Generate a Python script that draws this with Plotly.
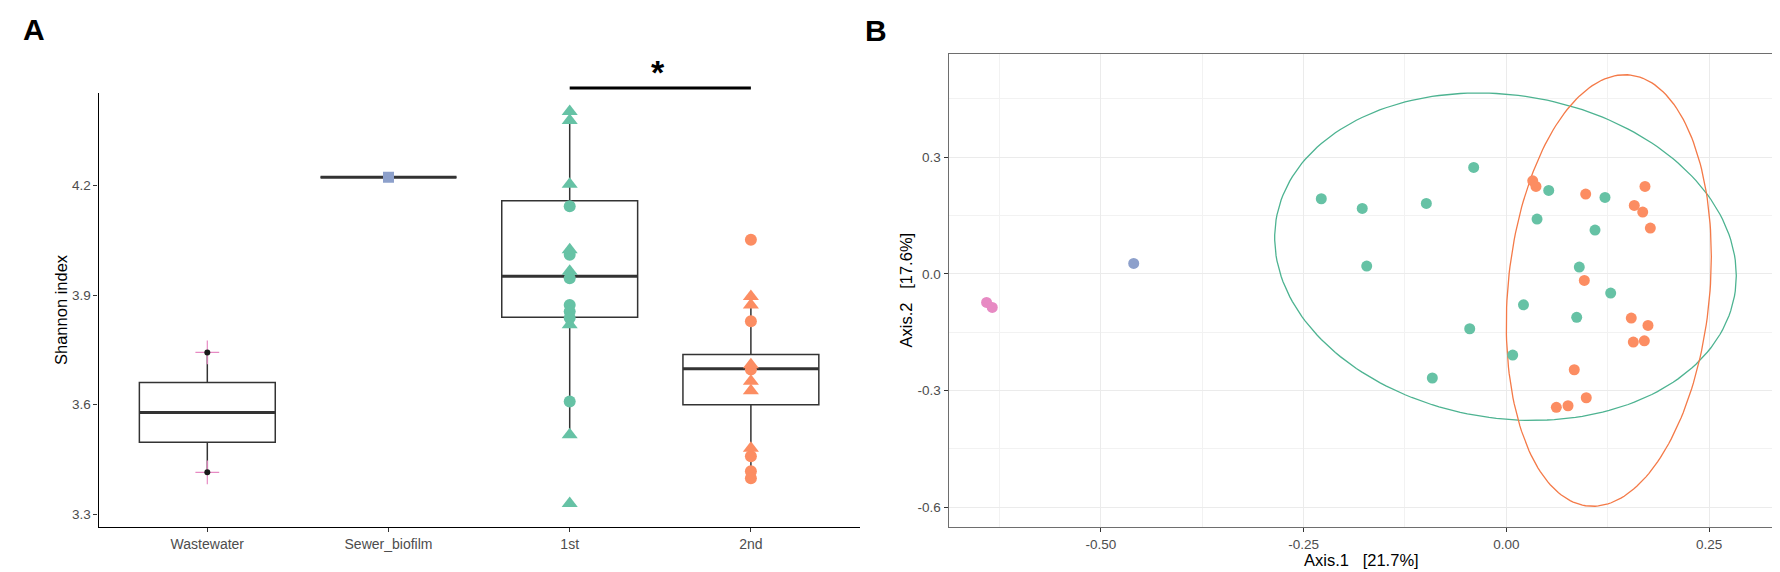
import numpy as np
import plotly.graph_objects as go

# ---------------- Panel A data ----------------
categories = ["Wastewater", "Sewer_biofilm", "1st", "2nd"]
cat_pos = [1, 2, 3, 4]

# box statistics (q1, median, q3, whisker ends)
box_q1 = [3.497, 4.222, 3.839, 3.600]
box_median = [3.579, 4.222, 3.951, 3.698]
box_q3 = [3.661, 4.222, 4.158, 3.737]
box_low = [3.415, 4.222, 3.518, 3.399]
box_high = [3.743, 4.222, 4.402, 3.896]

wastewater_vals = [3.743, 3.415]
sewer_vals = [4.222]
first_circles = [4.143, 4.010, 3.946, 3.873, 3.855, 3.837, 3.609]
first_triangles = [4.402, 4.377, 4.203, 4.024, 3.965, 3.819, 3.518, 3.33]
second_circles = [4.051, 3.828, 3.696, 3.459, 3.418, 3.399]
second_triangles = [3.896, 3.873, 3.709, 3.664, 3.638, 3.481]

a_yticks = [3.3, 3.6, 3.9, 4.2]

# ---------------- Panel B data ----------------
green_x = [-0.2281, -0.1776, -0.0986, -0.0402, -0.1721, -0.0451, -0.0912, 0.0079,
           0.0212, 0.0523, 0.0379, 0.1217, 0.1094, 0.0900, 0.1287, 0.0868]
green_y = [0.193, 0.168, 0.181, 0.2736, 0.0198, -0.1414, -0.268, -0.209,
           -0.0797, 0.2144, 0.1407, 0.1964, 0.1124, 0.0172, -0.0496, -0.1121]
orange_x = [0.0326, 0.0366, 0.0979, 0.1710, 0.1578, 0.1682, 0.1776, 0.0962,
            0.1541, 0.1747, 0.1566, 0.1702, 0.0838, 0.0986, 0.0617, 0.0761]
orange_y = [0.2391, 0.2247, 0.205, 0.2247, 0.1759, 0.1587, 0.1175, -0.017,
            -0.1139, -0.1327, -0.1756, -0.1723, -0.2468, -0.3188, -0.3435, -0.3394]
pink_x = [-0.6408, -0.6338]
pink_y = [-0.0736, -0.0864]
blue_x = [-0.4594]
blue_y = [0.0267]

# 95% ellipse summaries (centre, covariance)
green_ell_center = [-0.001, 0.044]
green_ell_cov = [[0.0810, -0.01395], [-0.01395, 0.1772]]
orange_ell_center = [0.1264, -0.043]
orange_ell_cov = [[0.01598, 0.011], [0.011, 0.308]]

b_xticks = [-0.5, -0.25, 0.0, 0.25]
b_xtick_text = ["-0.50", "-0.25", "0.00", "0.25"]
b_yticks = [-0.6, -0.3, 0.0, 0.3]
b_ytick_text = ["-0.6", "-0.3", "0.0", "0.3"]

# ---------------- styles ----------------
GREEN = "#66C2A5"
ORANGE = "#FC8D62"
BLUE = "#8DA0CB"
PINK = "#E78AC3"
FONT = "Liberation Sans, Arial, sans-serif"
TICKCOL = "#4D4D4D"
BOXW = 0.75

W, H = 1780, 572


def px_x(p):
    return p / W


def px_y(p):
    return 1 - p / H


fig = go.Figure()

# Panel A: boxes
fig.add_trace(go.Box(
    x=cat_pos, q1=box_q1, median=box_median, q3=box_q3,
    lowerfence=box_low, upperfence=box_high,
    width=BOXW, boxpoints=False, fillcolor="white",
    line=dict(color="#333333", width=1.5), whiskerwidth=0,
    xaxis="x", yaxis="y", showlegend=False, hoverinfo="skip"))

# thicker median segments
for xp, m in zip(cat_pos, box_median):
    fig.add_trace(go.Scatter(
        x=[xp - BOXW / 2, xp + BOXW / 2], y=[m, m], mode="lines",
        line=dict(color="#333333", width=3), xaxis="x", yaxis="y",
        showlegend=False, hoverinfo="skip"))

# Wastewater points
fig.add_trace(go.Scatter(
    x=[1] * len(wastewater_vals), y=wastewater_vals, mode="markers",
    marker=dict(symbol="cross-thin", size=17, line=dict(color=PINK, width=1.2)),
    xaxis="x", yaxis="y", showlegend=False))
fig.add_trace(go.Scatter(
    x=[1] * len(wastewater_vals), y=wastewater_vals, mode="markers",
    marker=dict(symbol="circle", size=6, color="#1a1a1a"),
    xaxis="x", yaxis="y", showlegend=False))
# Sewer biofilm point
fig.add_trace(go.Scatter(
    x=[2] * len(sewer_vals), y=sewer_vals, mode="markers",
    marker=dict(symbol="square", size=11, color=BLUE),
    xaxis="x", yaxis="y", showlegend=False))
# 1st
fig.add_trace(go.Scatter(
    x=[3] * len(first_circles), y=first_circles, mode="markers",
    marker=dict(symbol="circle", size=12, color=GREEN),
    xaxis="x", yaxis="y", showlegend=False))
fig.add_trace(go.Scatter(
    x=[3] * len(first_triangles), y=first_triangles, mode="markers",
    marker=dict(symbol="triangle-up", size=14, color=GREEN),
    xaxis="x", yaxis="y", showlegend=False))
# 2nd
fig.add_trace(go.Scatter(
    x=[4] * len(second_circles), y=second_circles, mode="markers",
    marker=dict(symbol="circle", size=12, color=ORANGE),
    xaxis="x", yaxis="y", showlegend=False))
fig.add_trace(go.Scatter(
    x=[4] * len(second_triangles), y=second_triangles, mode="markers",
    marker=dict(symbol="triangle-up", size=14, color=ORANGE),
    xaxis="x", yaxis="y", showlegend=False))

# Panel B: ellipses
def ellipse(center, cov, n=200):
    c = np.array(cov)
    L = np.linalg.cholesky(c)
    t = np.linspace(0, 2 * np.pi, n)
    pts = L @ np.vstack([np.cos(t), np.sin(t)])
    return pts[0] + center[0], pts[1] + center[1]


ex, ey = ellipse(green_ell_center, green_ell_cov)
fig.add_trace(go.Scatter(x=ex, y=ey, mode="lines", line=dict(color="#4DB391", width=1.3),
                         xaxis="x2", yaxis="y2", showlegend=False, hoverinfo="skip"))
ex, ey = ellipse(orange_ell_center, orange_ell_cov)
fig.add_trace(go.Scatter(x=ex, y=ey, mode="lines", line=dict(color="#F47A48", width=1.3),
                         xaxis="x2", yaxis="y2", showlegend=False, hoverinfo="skip"))

for xs, ys, col in [(green_x, green_y, GREEN), (orange_x, orange_y, ORANGE),
                    (pink_x, pink_y, PINK), (blue_x, blue_y, BLUE)]:
    fig.add_trace(go.Scatter(x=xs, y=ys, mode="markers",
                             marker=dict(size=11, color=col),
                             xaxis="x2", yaxis="y2", showlegend=False))

# ---------------- layout ----------------
a_left, a_right, a_top, a_bottom = 90.6, 851.6, 85, 519.3
b_left, b_right, b_top, b_bottom = 940.7, 1765.7, 45.7, 519.3

fig.update_layout(
    width=W, height=H, margin=dict(l=0, r=0, t=0, b=0),
    paper_bgcolor="white", plot_bgcolor="white",
    font=dict(family=FONT, color="black"),
    xaxis=dict(domain=[px_x(a_left), px_x(a_right)], range=[0.4, 4.6],
               tickmode="array", tickvals=cat_pos, ticktext=categories,
               showline=True, linecolor="black", linewidth=1.3,
               ticks="outside", ticklen=4, tickcolor="#333333", tickwidth=1.2,
               showgrid=False, zeroline=False,
               tickfont=dict(size=14, color=TICKCOL, family=FONT), anchor="y"),
    yaxis=dict(domain=[px_y(a_bottom), px_y(a_top)], range=[3.2647, 4.4525],
               tickmode="array", tickvals=a_yticks,
               ticktext=[f"{v:.1f}" for v in a_yticks],
               showline=True, linecolor="black", linewidth=1.3,
               ticks="outside", ticklen=4, tickcolor="#333333", tickwidth=1.2,
               showgrid=False, zeroline=False,
               tickfont=dict(size=13.5, color=TICKCOL, family=FONT), anchor="x"),
    xaxis2=dict(domain=[px_x(b_left), px_x(b_right)], range=[-0.6875, 0.3297],
                tickmode="array", tickvals=b_xticks, ticktext=b_xtick_text,
                showline=True, mirror=True, linecolor="#6E6E6E", linewidth=1.3,
                ticks="outside", ticklen=4, tickcolor="#333333", tickwidth=1.2,
                showgrid=True, gridcolor="#EBEBEB", gridwidth=1.2, zeroline=False,
                minor=dict(tick0=0, dtick=0.125, showgrid=True, gridcolor="#F2F2F2",
                           gridwidth=0.8, ticklen=0),
                tickfont=dict(size=13.5, color=TICKCOL, family=FONT), anchor="y2"),
    yaxis2=dict(domain=[px_y(b_bottom), px_y(b_top)], range=[-0.652, 0.566],
                tickmode="array", tickvals=b_yticks, ticktext=b_ytick_text,
                showline=True, mirror=True, linecolor="#6E6E6E", linewidth=1.3,
                ticks="outside", ticklen=4, tickcolor="#333333", tickwidth=1.2,
                showgrid=True, gridcolor="#EBEBEB", gridwidth=1.2, zeroline=False,
                minor=dict(tick0=0, dtick=0.15, showgrid=True, gridcolor="#F2F2F2",
                           gridwidth=0.8, ticklen=0),
                tickfont=dict(size=13.5, color=TICKCOL, family=FONT), anchor="x2"),
)

# significance bar between 1st and 2nd
x0d = (cat_pos[2] - 0.4) / 4.2
x1d = (cat_pos[3] - 0.4) / 4.2
bar_y = (a_bottom - 80) / (a_bottom - a_top)
fig.add_shape(type="line", xref="x domain", yref="y domain",
              x0=x0d, x1=x1d, y0=bar_y, y1=bar_y,
              line=dict(color="black", width=3))

annotations = [
    dict(text="<b>A</b>", x=px_x(25.5), y=px_y(21.5), font=dict(size=30)),
    dict(text="<b>B</b>", x=px_x(867.5), y=px_y(22.5), font=dict(size=30)),
    dict(text="<b>*</b>", x=px_x(650), y=px_y(64), font=dict(size=34)),
    dict(text="Shannon index", x=px_x(53), y=px_y(302), textangle=-90,
         font=dict(size=16.5)),
    dict(text="Axis.2&nbsp;&nbsp;&nbsp;[17.6%]", x=px_x(897), y=px_y(282.5),
         textangle=-90, font=dict(size=16.5)),
    dict(text="Axis.1&nbsp;&nbsp;&nbsp;[21.7%]", x=px_x(1353), y=px_y(551.5),
         font=dict(size=16.5)),
]
for a in annotations:
    fig.add_annotation(xref="paper", yref="paper", showarrow=False,
                       xanchor="center", yanchor="middle",
                       font=dict(family=FONT, color="black", size=a["font"]["size"]),
                       **{k: v for k, v in a.items() if k != "font"})

fig.write_html("out.html")
